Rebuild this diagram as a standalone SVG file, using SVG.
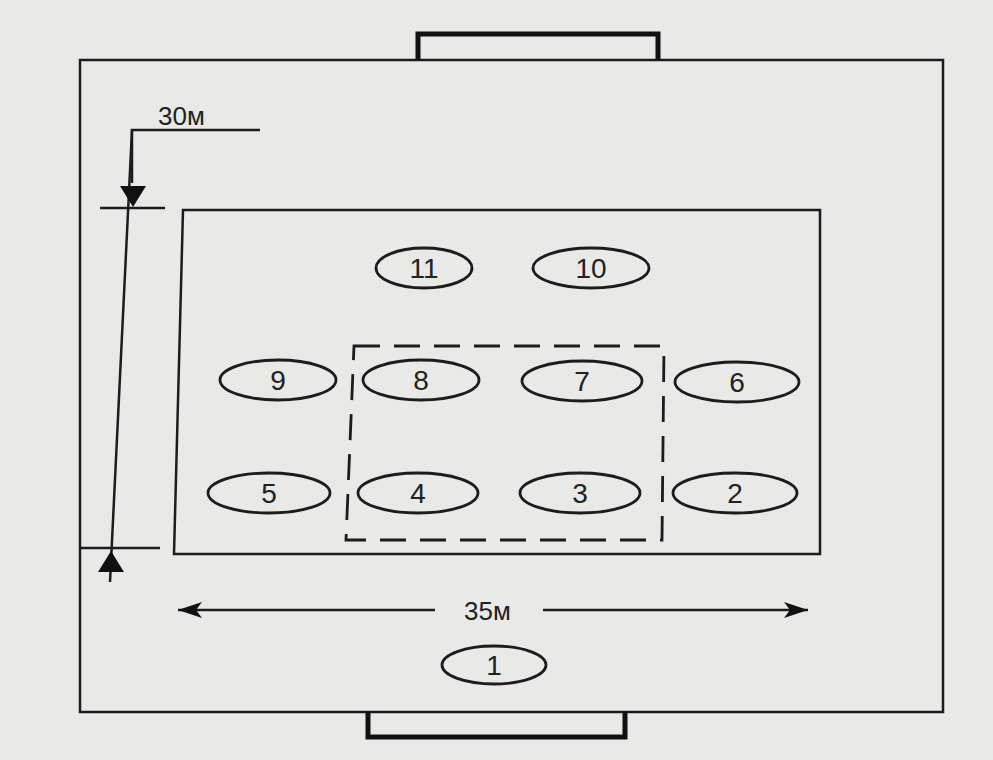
<svg xmlns="http://www.w3.org/2000/svg" width="993" height="760" viewBox="0 0 993 760">
<defs>
<style>
.ln{fill:none;stroke:#1c1c1c;stroke-width:2.5}
.goal{fill:none;stroke:#111;stroke-width:5}
.dash{fill:none;stroke:#1c1c1c;stroke-width:2.8;stroke-dasharray:26 14}
.pl ellipse{fill:none;stroke:#1c1c1c;stroke-width:2.8}
.pl text{font-family:"Liberation Sans",Arial,sans-serif;font-size:28px;fill:#222;text-anchor:middle}
.lbl{font-family:"Liberation Sans",Arial,sans-serif;font-size:26px;fill:#222}
</style>
<marker id="ah" viewBox="0 0 24 16" refX="24" refY="8" markerWidth="24" markerHeight="16" markerUnits="userSpaceOnUse" orient="auto">
<path d="M0,0 L24,8 L0,16 L6,8 Z" fill="#111"/>
</marker>
</defs>
<rect width="993" height="760" fill="#e9e9e7"/>
<g id="field">
<rect class="ln" x="80" y="60" width="863" height="652"/>
<path class="goal" d="M418,60 V34 H658 V60"/>
<path class="goal" d="M368,712 V737 H625 V712"/>
<path class="ln" d="M183,210 H820 V554 H174 Z"/>
<path class="dash" d="M354,346 H664 L662,540 H346 Z"/>
</g>
<g id="connectors">
<path class="ln" d="M260,130 H132 V183"/>
<path class="ln" d="M132,130 L110,582"/>
<path d="M120,186 L146,186 L133,207 Z" fill="#111"/>
<path class="ln" d="M100,208 H165"/>
<path class="ln" d="M80,548 H160"/>
<path d="M98,572 L124,572 L111,551 Z" fill="#111"/>
<path class="ln" d="M435,610 H178" marker-end="url(#ah)"/>
<path class="ln" d="M543,610 H808" marker-end="url(#ah)"/>
<text class="lbl" x="158" y="125">30м</text>
<text class="lbl" x="464" y="620">35м</text>
</g>
<g id="p1" class="pl"><ellipse cx="494" cy="665" rx="52" ry="19"/><text x="494" y="675">1</text></g>
<g id="p2" class="pl"><ellipse cx="735" cy="493" rx="62" ry="20"/><text x="735" y="503">2</text></g>
<g id="p3" class="pl"><ellipse cx="580" cy="493" rx="60" ry="20"/><text x="580" y="503">3</text></g>
<g id="p4" class="pl"><ellipse cx="418" cy="493" rx="60" ry="20"/><text x="418" y="503">4</text></g>
<g id="p5" class="pl"><ellipse cx="269" cy="493" rx="61" ry="20"/><text x="269" y="503">5</text></g>
<g id="p6" class="pl"><ellipse cx="737" cy="382" rx="62" ry="20"/><text x="737" y="392">6</text></g>
<g id="p7" class="pl"><ellipse cx="582" cy="381" rx="60" ry="20"/><text x="582" y="391">7</text></g>
<g id="p8" class="pl"><ellipse cx="421" cy="380" rx="58" ry="20"/><text x="421" y="390">8</text></g>
<g id="p9" class="pl"><ellipse cx="278" cy="380" rx="58" ry="20"/><text x="278" y="390">9</text></g>
<g id="p10" class="pl"><ellipse cx="591" cy="268" rx="58" ry="20"/><text x="591" y="278">10</text></g>
<g id="p11" class="pl"><ellipse cx="424" cy="268" rx="48" ry="20"/><text x="424" y="278">11</text></g>
</svg>
